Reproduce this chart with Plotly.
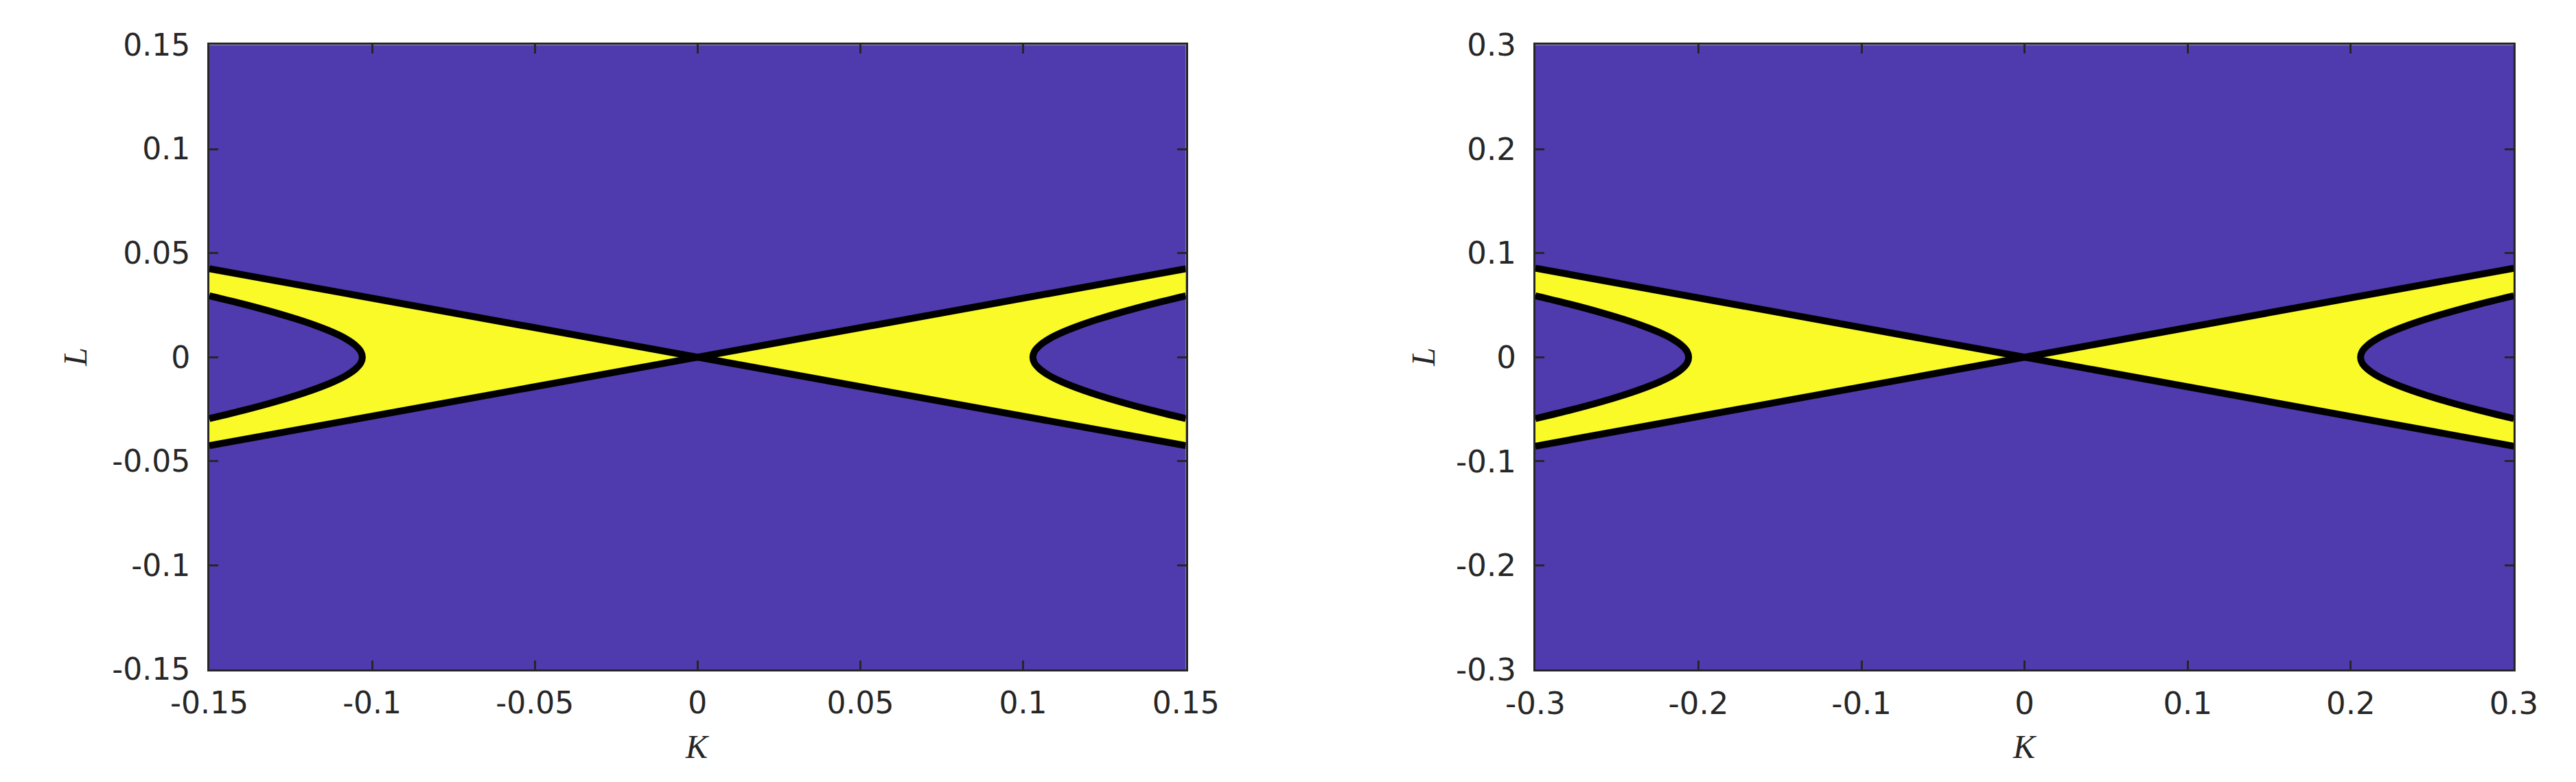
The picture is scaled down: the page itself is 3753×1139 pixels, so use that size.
import plotly.graph_objects as go

# ---------------- data ----------------
# left panel
k_range_1 = [-0.15, 0.15]
l_range_1 = [-0.15, 0.15]
k_ticks_1 = [-0.15, -0.1, -0.05, 0, 0.05, 0.1, 0.15]
k_ticklabels_1 = ["-0.15", "-0.1", "-0.05", "0", "0.05", "0.1", "0.15"]
l_ticks_1 = [-0.15, -0.1, -0.05, 0, 0.05, 0.1, 0.15]
l_ticklabels_1 = ["-0.15", "-0.1", "-0.05", "0", "0.05", "0.1", "0.15"]
# straight boundary lines through the origin: end points at the panel edges
line_k_1 = [-0.15, 0.15]
line_l_1 = [0.0425, -0.0425]
# right branch of curved boundary (upper half), K and L
curve_k_1 = [0.103, 0.1035, 0.105, 0.108, 0.112, 0.117, 0.123, 0.130, 0.140, 0.150]
curve_l_1 = [0.0, 0.0028, 0.0055, 0.0088, 0.0119, 0.0150, 0.0182, 0.0215, 0.0257, 0.0295]

# right panel
k_range_2 = [-0.3, 0.3]
l_range_2 = [-0.3, 0.3]
k_ticks_2 = [-0.3, -0.2, -0.1, 0, 0.1, 0.2, 0.3]
k_ticklabels_2 = ["-0.3", "-0.2", "-0.1", "0", "0.1", "0.2", "0.3"]
l_ticks_2 = [-0.3, -0.2, -0.1, 0, 0.1, 0.2, 0.3]
l_ticklabels_2 = ["-0.3", "-0.2", "-0.1", "0", "0.1", "0.2", "0.3"]
line_k_2 = [-0.3, 0.3]
line_l_2 = [0.0855, -0.0855]
curve_k_2 = [0.206, 0.207, 0.210, 0.216, 0.224, 0.234, 0.246, 0.260, 0.280, 0.300]
curve_l_2 = [0.0, 0.0056, 0.0110, 0.0176, 0.0238, 0.0300, 0.0364, 0.0430, 0.0514, 0.0590]

# ---------------- styles ----------------
PURPLE = "#4f3bae"
YELLOW = "#f9fa27"
BLACK = "#000000"
AXC = "#262626"
LW = 10

fig = go.Figure()


def add_panel(xa, ya, lk, ll, ck, cl):
    kmax = lk[1]
    lmax = ll[0]
    # yellow wedges between the two straight lines
    for s in (1, -1):
        fig.add_trace(go.Scatter(
            x=[0, s * kmax, s * kmax, 0], y=[0, lmax, -lmax, 0],
            mode="lines", fill="toself", fillcolor=YELLOW,
            line=dict(width=0, color=YELLOW), hoverinfo="skip",
            showlegend=False, xaxis=xa, yaxis=ya))
    # purple interior of the curved boundary on each side
    for s in (1, -1):
        xs = [s * k for k in ck] + [s * k for k in reversed(ck)]
        ys = list(cl) + [-l for l in reversed(cl)]
        fig.add_trace(go.Scatter(
            x=xs, y=ys, mode="lines", fill="toself", fillcolor=PURPLE,
            line=dict(width=0, color=PURPLE), hoverinfo="skip",
            showlegend=False, xaxis=xa, yaxis=ya))
    # black straight lines
    for sgn in (1, -1):
        fig.add_trace(go.Scatter(
            x=lk, y=[sgn * v for v in ll], mode="lines",
            line=dict(width=LW, color=BLACK), hoverinfo="skip",
            showlegend=False, xaxis=xa, yaxis=ya))
    # black curved boundaries
    for s in (1, -1):
        xs = [s * k for k in reversed(ck)] + [s * k for k in ck[1:]]
        ys = list(reversed(cl)) + [-l for l in cl[1:]]
        fig.add_trace(go.Scatter(
            x=xs, y=ys, mode="lines", line=dict(width=LW, color=BLACK, shape="spline"),
            hoverinfo="skip", showlegend=False, xaxis=xa, yaxis=ya))


add_panel("x", "y", line_k_1, line_l_1, curve_k_1, curve_l_1)
add_panel("x2", "y2", line_k_2, line_l_2, curve_k_2, curve_l_2)

W, H = 3753, 1139
ydom = [(H - 987) / H, (H - 33) / H]
x1dom = [247 / W, 1711 / W]
x2dom = [2235 / W, 3702 / W]

common = dict(showline=True, linecolor=AXC, linewidth=3, mirror="ticks",
              ticks="inside", ticklen=13, tickwidth=2.5, tickcolor=AXC,
              showgrid=False, zeroline=False, fixedrange=True)

fig.update_layout(
    width=W, height=H,
    margin=dict(l=0, r=0, t=0, b=0),
    paper_bgcolor="white", plot_bgcolor=PURPLE,
    showlegend=False,
    xaxis=dict(domain=x1dom, range=k_range_1, tickvals=k_ticks_1, ticktext=k_ticklabels_1,
               anchor="y", ticklabelstandoff=8,
               tickfont=dict(family="DejaVu Sans", size=44, color=AXC), **common),
    yaxis=dict(domain=ydom, range=l_range_1, tickvals=l_ticks_1, ticktext=l_ticklabels_1,
               anchor="x", ticklabelstandoff=16,
               tickfont=dict(family="DejaVu Sans", size=44, color=AXC), **common),
    xaxis2=dict(domain=x2dom, range=k_range_2, tickvals=k_ticks_2, ticktext=k_ticklabels_2,
                anchor="y2", ticklabelstandoff=8,
                tickfont=dict(family="DejaVu Sans", size=45, color=AXC), **common),
    yaxis2=dict(domain=ydom, range=l_range_2, tickvals=l_ticks_2, ticktext=l_ticklabels_2,
                anchor="x2", ticklabelstandoff=16,
                tickfont=dict(family="DejaVu Sans", size=45, color=AXC), **common),
)

title_font = dict(family="Liberation Serif", size=48, color=AXC)
fig.add_annotation(text="<i>K</i>", xref="paper", yref="paper",
                   x=(x1dom[0] + x1dom[1]) / 2, y=(H - 1134) / H,
                   showarrow=False, font=title_font, xanchor="center", yanchor="bottom",
                   borderpad=0)
fig.add_annotation(text="<i>L</i>", xref="paper", yref="paper",
                   x=46 / W, y=(H - 510) / H, textangle=-90,
                   showarrow=False, font=title_font, xanchor="center", yanchor="middle")
fig.add_annotation(text="<i>K</i>", xref="paper", yref="paper",
                   x=(x2dom[0] + x2dom[1]) / 2, y=(H - 1134) / H,
                   showarrow=False, font=title_font, xanchor="center", yanchor="bottom",
                   borderpad=0)
fig.add_annotation(text="<i>L</i>", xref="paper", yref="paper",
                   x=2067 / W, y=(H - 510) / H, textangle=-90,
                   showarrow=False, font=title_font, xanchor="center", yanchor="middle")

fig.write_html("out.html")
